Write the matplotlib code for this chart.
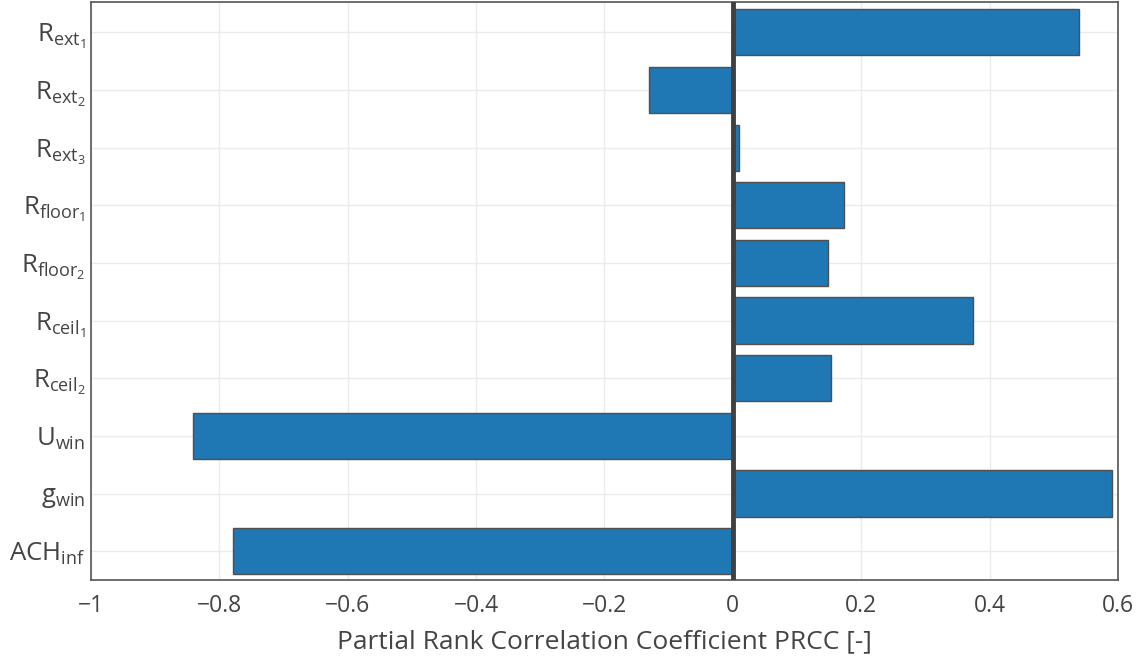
import matplotlib.pyplot as plt
import numpy as np

# PRCC sensitivity of the model output to each building parameter
parameters = [
    r"$\mathregular{R_{ext_{1}}}$",
    r"$\mathregular{R_{ext_{2}}}$",
    r"$\mathregular{R_{ext_{3}}}$",
    r"$\mathregular{R_{floor_{1}}}$",
    r"$\mathregular{R_{floor_{2}}}$",
    r"$\mathregular{R_{ceil_{1}}}$",
    r"$\mathregular{R_{ceil_{2}}}$",
    r"$\mathregular{U_{win}}$",
    r"$\mathregular{g_{win}}$",
    r"$\mathregular{ACH_{inf}}$",
]
prcc = [0.540, -0.130, 0.009, 0.173, 0.148, 0.374, 0.153, -0.841, 0.590, -0.779]
x_ticks = [-1, -0.8, -0.6, -0.4, -0.2, 0, 0.2, 0.4, 0.6]
x_tick_labels = ["\u22121", "\u22120.8", "\u22120.6", "\u22120.4", "\u22120.2", "0", "0.2", "0.4", "0.6"]

TEXT = "#444444"
plt.rcParams["font.family"] = ["Open Sans", "DejaVu Sans"]
plt.rcParams["mathtext.fontset"] = "custom"
plt.rcParams["mathtext.rm"] = "Open Sans"


def main() -> None:
    fig = plt.figure(figsize=(11.48, 6.63), dpi=100)
    ax = fig.add_axes([0.0793, 0.1252, 0.8945, 0.8713])

    y = np.arange(len(parameters))
    ax.barh(y, prcc, height=0.8, color="#1f77b4", edgecolor="#505050",
            linewidth=1.0, zorder=3)
    ax.axvline(0, color="#404040", linewidth=3.5, zorder=4)

    ax.set_xlim(-1, 0.6)
    ax.set_ylim(len(parameters) - 0.5, -0.52)
    ax.set_xticks(x_ticks)
    ax.set_xticklabels(x_tick_labels)
    ax.set_yticks(y)
    ax.set_yticklabels(parameters)

    ax.grid(True, color="#ebebeb", linewidth=1.0, zorder=0)
    ax.tick_params(axis="both", length=0, labelcolor=TEXT)
    ax.tick_params(axis="x", labelsize=16.5, pad=10)
    ax.tick_params(axis="y", labelsize=18.5, pad=4)
    for spine in ax.spines.values():
        spine.set_color("#555555")
        spine.set_linewidth(1.2)

    ax.set_xlabel("Partial Rank Correlation Coefficient PRCC [-]",
                  fontsize=19, color=TEXT, labelpad=8)

    fig.savefig("out.png", dpi=100)
    plt.close(fig)


if __name__ == "__main__":
    main()
